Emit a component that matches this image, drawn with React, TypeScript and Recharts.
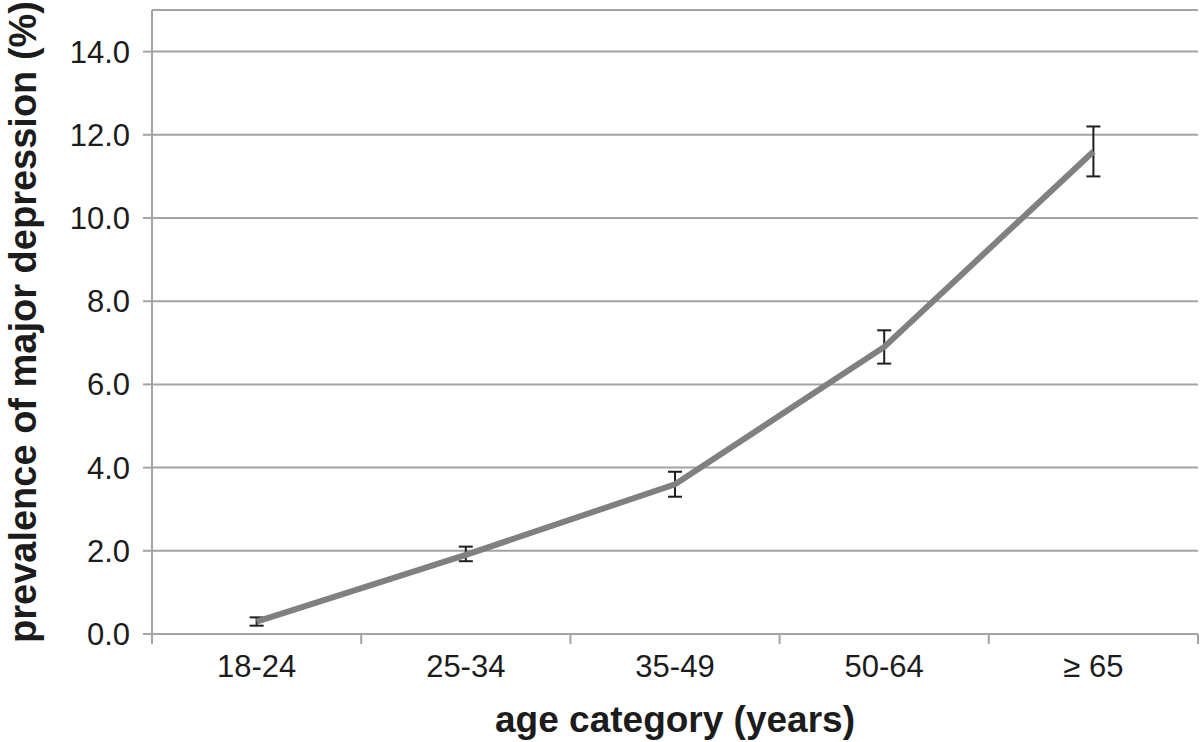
import React from 'react';
import { LineChart, Line, XAxis, YAxis, CartesianGrid, ErrorBar } from 'recharts';

const categories = ['18-24', '25-34', '35-49', '50-64', '\u2265 65'];
const prevalence = [0.3, 1.9, 3.6, 6.9, 11.6];
const lowerCI = [0.2, 1.75, 3.3, 6.5, 11.0];
const upperCI = [0.4, 2.1, 3.9, 7.3, 12.2];
const yTicks = [0, 2, 4, 6, 8, 10, 12, 14];

const data = categories.map((c, i) => ({
  x: i + 0.5,
  name: c,
  value: prevalence[i],
  err: [prevalence[i] - lowerCI[i], upperCI[i] - prevalence[i]],
}));

const xTicks: number[] = [];
for (let i = 0; i <= categories.length; i++) {
  xTicks.push(i);
  if (i < categories.length) xTicks.push(i + 0.5);
}

const AXIS = '#a3a3a3';
const FONT = '"Liberation Sans", Arial, Helvetica, sans-serif';

const XTick = (props: any) => {
  const { x, y, payload } = props;
  const v = payload.value as number;
  if (Number.isInteger(v)) {
    return <line x1={x} y1={y} x2={x} y2={y + 10} stroke={AXIS} strokeWidth={2} />;
  }
  return (
    <text x={x} y={y + 21} dy="0.71em" textAnchor="middle" fill="#1c1c1c" fontSize={31} fontFamily={FONT}>
      {categories[Math.floor(v)]}
    </text>
  );
};

export default function App() {
  return (
    <div style={{ position: 'absolute', left: 0, top: 0, background: '#fff' }}>
      <LineChart width={1200} height={742} data={data} margin={{ top: 10, right: 2, left: 0, bottom: 0 }}>
        <CartesianGrid horizontal vertical={false} stroke={AXIS} strokeWidth={2} />
        <XAxis
          dataKey="x"
          type="number"
          domain={[0, categories.length]}
          ticks={xTicks}
          interval={0}
          height={108}
          tickLine={false}
          tickSize={0}
          tickMargin={0}
          axisLine={{ stroke: AXIS, strokeWidth: 2 }}
          tick={<XTick />}
          label={{
            value: 'age category (years)',
            position: 'insideBottom',
            offset: 10,
            style: { fontSize: 37, fontWeight: 'bold', fontFamily: FONT, fill: '#1c1c1c' },
          }}
        />
        <YAxis
          type="number"
          domain={[0, 15]}
          ticks={yTicks}
          interval={0}
          width={152}
          tickSize={9}
          tickMargin={13}
          tickLine={{ stroke: AXIS, strokeWidth: 2 }}
          axisLine={{ stroke: AXIS, strokeWidth: 2 }}
          tickFormatter={(v: number) => v.toFixed(1)}
          tick={{ fontSize: 31, fontFamily: FONT, fill: '#1c1c1c' }}
          label={{
            value: 'prevalence of major depression (%)',
            angle: -90,
            position: 'insideLeft',
            offset: 23,
            style: { textAnchor: 'middle', fontSize: 38, fontWeight: 'bold', fontFamily: FONT, fill: '#1c1c1c' },
          }}
        />
        <Line
          type="linear"
          dataKey="value"
          stroke="#808080"
          strokeWidth={6}
          dot={false}
          activeDot={false}
          isAnimationActive={false}
        >
          <ErrorBar dataKey="err" width={7} stroke="#1e1e1e" strokeWidth={2} />
        </Line>
      </LineChart>
    </div>
  );
}
